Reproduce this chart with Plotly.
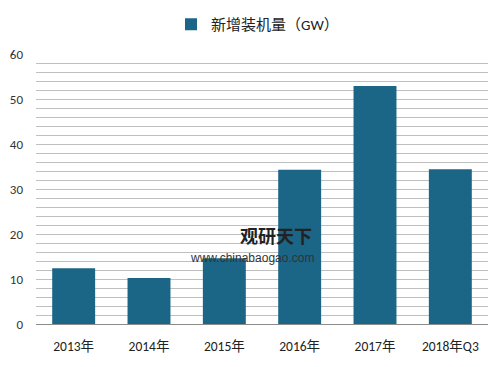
import plotly.graph_objects as go

categories = ["2013年", "2014年", "2015年", "2016年", "2017年", "2018年Q3"]
values = [12.4, 10.2, 14.6, 34.3, 52.9, 34.4]
series_name = "新增装机量（GW）"
y_ticks = [0, 10, 20, 30, 40, 50, 60]

font_family = "Carlito, Calibri, 'Noto Sans CJK SC', sans-serif"

fig = go.Figure()
fig.add_trace(go.Bar(
    x=categories, y=values, name=series_name,
    marker=dict(color="#1B6587", line=dict(width=0)),
    width=0.57,
))

fig.update_layout(
    width=495, height=359,
    margin=dict(l=28, r=15, t=46, b=43, autoexpand=False),
    paper_bgcolor="white", plot_bgcolor="white",
    font=dict(family=font_family, size=13, color="#333333"),
    showlegend=True,
    legend=dict(orientation="h", x=0.49, xanchor="center", y=1.0, yanchor="top",
                yref="container", font=dict(size=15, color="#222222"),
                itemwidth=30),
)

fig.update_yaxes(
    range=[0, 60], tickvals=y_ticks, showgrid=True, gridcolor="#BFBFBF", gridwidth=1,
    minor=dict(dtick=2, showgrid=True, gridcolor="#BFBFBF", gridwidth=1),
    zeroline=False, showline=False, ticks="", ticklabelstandoff=12, automargin=False,
    tickfont=dict(size=13, color="#333333"),
)
fig.update_xaxes(
    showline=True, linecolor="#8C8C8C", linewidth=1, ticks="", automargin=False,
    tickfont=dict(size=13.5, color="#222222"), ticklabelstandoff=10,
)

fig.add_annotation(text="<b>观研天下</b>", x=0.53, y=0.33, xref="paper", yref="paper",
                   xanchor="center", yanchor="middle", showarrow=False,
                   font=dict(size=18, color="#222222", family="'Noto Sans CJK SC'"))
fig.add_annotation(text="www.chinabaogao.com", x=0.478, y=0.245, xref="paper", yref="paper",
                   xanchor="center", yanchor="middle", showarrow=False,
                   font=dict(size=12, color="#333333", family="'Liberation Sans'"))

fig.write_html("out.html")
